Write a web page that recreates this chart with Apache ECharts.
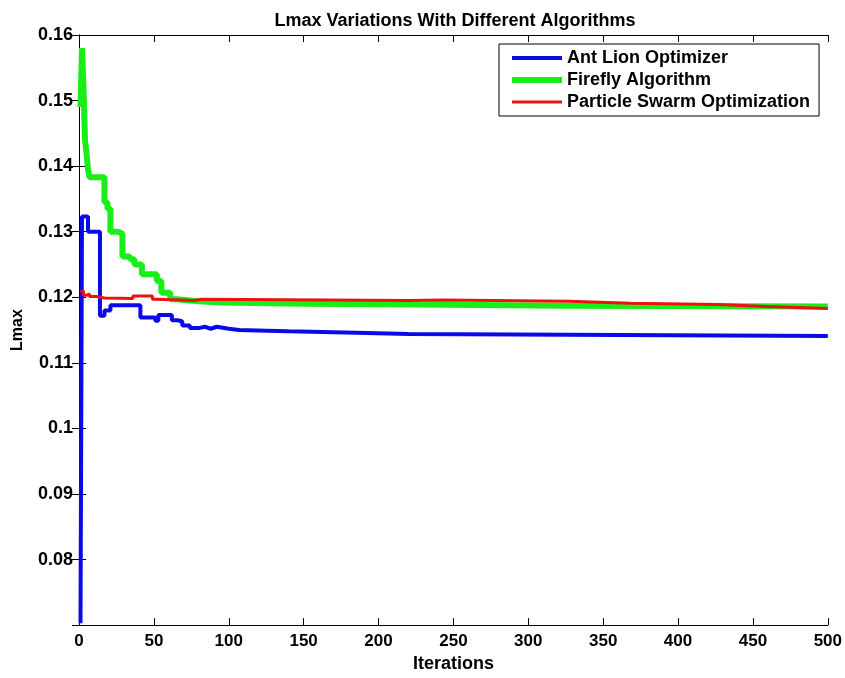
<!DOCTYPE html>
<html>
<head>
<meta charset="utf-8">
<script src="https://cdn.jsdelivr.net/npm/echarts@6/dist/echarts.min.js"></script>
<style>
  html, body { margin: 0; padding: 0; background: #fff; }
  #chart { width: 845px; height: 678px; }
</style>
</head>
<body>
<div id="chart"></div>
<script>
// values (iteration where a level starts, Lmax)
const aloIter = [1, 2, 6, 14, 17, 21, 41, 51, 53, 62, 66, 69, 74, 80, 84, 88, 92, 100, 107, 125, 140, 185, 220, 325, 500]
const aloLmax = [0.0703, 0.1323, 0.1300, 0.1172, 0.1180, 0.1188, 0.1169, 0.1164, 0.1173, 0.1165, 0.1163, 0.1157, 0.1153, 0.1155, 0.1152, 0.1155, 0.1152, 0.1150, 0.1149, 0.1148, 0.1146, 0.1144, 0.1143, 0.1141, 0.1141]

const faIter = [1, 2, 3, 4, 5, 6, 7, 17, 19, 21, 26, 29, 34, 37, 42, 52, 55, 61, 65, 80, 95, 150, 225, 325, 500]
const faLmax = [0.1490, 0.1580, 0.1520, 0.1440, 0.1420, 0.1395, 0.1383, 0.1345, 0.1335, 0.1300, 0.1297, 0.1262, 0.1258, 0.1250, 0.1235, 0.1225, 0.1207, 0.1197, 0.1194, 0.1192, 0.1190, 0.1189, 0.1187, 0.1186, 0.1186]

const psoIter = [1, 3, 5, 7, 12, 17, 36, 49, 52, 77, 82, 220, 243, 327, 368, 427, 459, 500]
const psoLmax = [0.1209, 0.1203, 0.1205, 0.1201, 0.1199, 0.1198, 0.1202, 0.1197, 0.1195, 0.1197, 0.1195, 0.1196, 0.1194, 0.1191, 0.1189, 0.1186, 0.1183, 0.1182]

const seriesNames = ['Ant Lion Optimizer', 'Firefly Algorithm', 'Particle Swarm Optimization']
const seriesColors = ['#0a0ae8', '#19ee19', '#ee1111']
const lineWidths = [4, 6, 3]
const xTicks = { min: 0, max: 500, interval: 50 }
const yTicks = { min: 0.07, max: 0.16, interval: 0.01 }

const font = 'Liberation Sans, Arial, sans-serif'

function pairs(xs, ys) {
  return xs.map((x, i) => [x, ys[i]])
}

function lineSeries(i, data) {
  return {
    name: seriesNames[i],
    type: 'line',
    step: 'end',
    symbol: 'none',
    data: data,
    clip: true,
    lineStyle: { color: seriesColors[i], width: lineWidths[i] },
    itemStyle: { color: seriesColors[i] }
  }
}

const myChart = echarts.init(document.getElementById('chart'))
const axisCommon = {
  axisLine: { show: true, lineStyle: { color: '#000', width: 1 } },
  axisTick: { show: true, inside: true, length: 7, lineStyle: { color: '#000' } },
  splitLine: { show: false }
}
const option = {
  backgroundColor: '#fff',
  animation: false,
  title: {
    text: 'Lmax Variations With Different Algorithms',
    left: 450,
    textAlign: 'center',
    top: 7,
    textStyle: { fontFamily: font, fontSize: 18, fontWeight: 'bold', color: '#000' }
  },
  grid: { left: 79, right: 17, top: 35, bottom: 51 },
  legend: {
    orient: 'vertical',
    left: 499,
    top: 44,
    padding: [5, 9, 5, 10],
    itemGap: 4,
    itemWidth: 50,
    itemHeight: 18,
    borderColor: '#000',
    borderWidth: 1,
    backgroundColor: '#fff',
    data: seriesNames.map((n, i) => ({
      name: n,
      itemStyle: { opacity: 0 },
      lineStyle: { width: lineWidths[i], color: seriesColors[i] }
    })),
    textStyle: { fontFamily: font, fontSize: 18, fontWeight: 'bold', color: '#000' }
  },
  xAxis: [{
    type: 'value',
    min: xTicks.min,
    max: xTicks.max,
    interval: xTicks.interval,
    name: 'Iterations',
    nameLocation: 'middle',
    nameGap: 28,
    nameTextStyle: { fontFamily: font, fontSize: 18, fontWeight: 'bold', color: '#000' },
    axisLabel: { margin: 8, fontFamily: font, fontSize: 17, fontWeight: 'bold', color: '#000' },
    ...axisCommon
  }, {
    type: 'value',
    position: 'top',
    min: xTicks.min,
    max: xTicks.max,
    interval: xTicks.interval,
    axisLabel: { show: false },
    ...axisCommon
  }],
  yAxis: [{
    type: 'value',
    min: yTicks.min,
    max: yTicks.max,
    interval: yTicks.interval,
    name: 'Lmax',
    nameLocation: 'middle',
    nameGap: 53,
    nameTextStyle: { fontFamily: font, fontSize: 16, fontWeight: 'bold', color: '#000' },
    axisLabel: { showMinLabel: false, margin: 6, fontFamily: font, fontSize: 18, fontWeight: 'bold', color: '#000' },
    ...axisCommon
  }, {
    type: 'value',
    position: 'right',
    min: yTicks.min,
    max: yTicks.max,
    interval: yTicks.interval,
    axisLabel: { show: false },
    ...axisCommon
  }],
  series: [
    lineSeries(0, pairs(aloIter, aloLmax)),
    lineSeries(1, pairs(faIter, faLmax)),
    lineSeries(2, pairs(psoIter, psoLmax))
  ]
}
myChart.setOption(option)
</script>
</body>
</html>
